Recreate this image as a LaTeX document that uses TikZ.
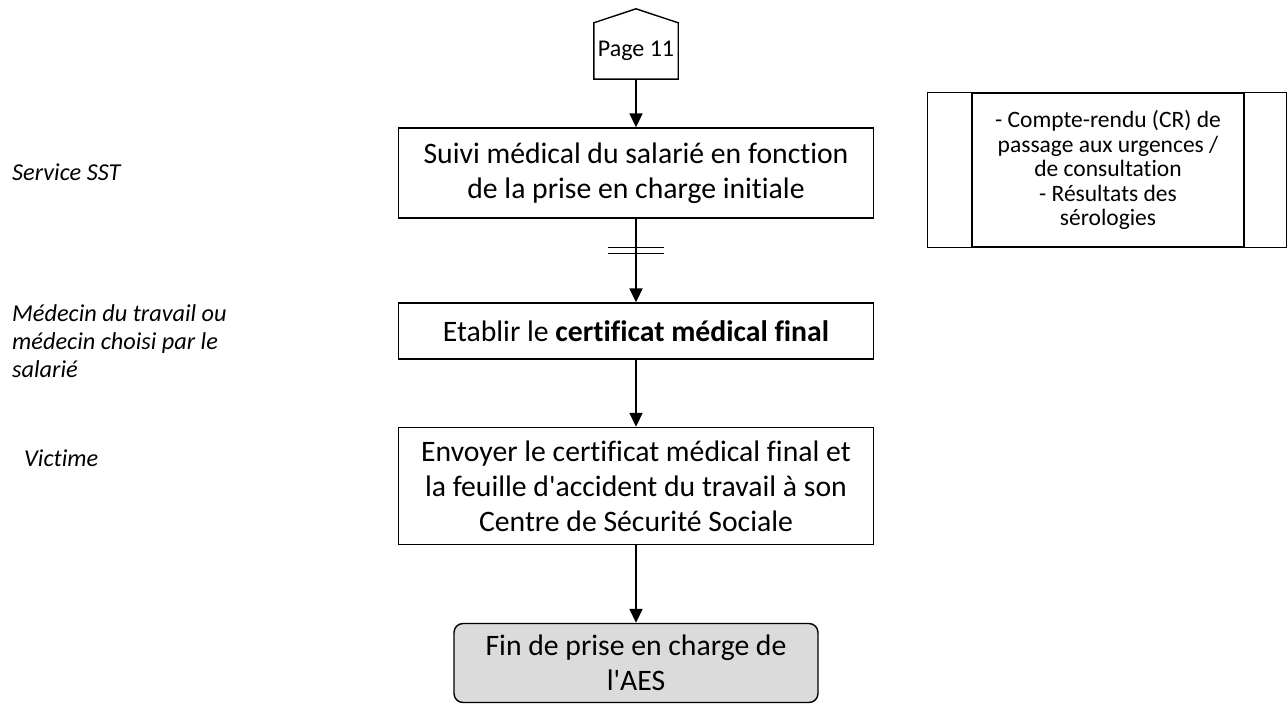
\documentclass[tikz,border=0pt]{standalone}
\usepackage{fontspec}
\setmainfont{Carlito}[Ligatures={TeXOff,NoCommon}]
\usetikzlibrary{arrows.meta, calc}

\begin{document}
\begin{tikzpicture}[x=1pt, y=-1pt, >={Triangle[length=14pt, width=13pt]},
  box/.style={draw, line width=1.4pt, align=center, minimum width=475pt, font=\fontsize{29.7}{35}\selectfont},
  role/.style={align=left, anchor=west, inner sep=0pt, font=\fontsize{24.3}{28}\selectfont\itshape},
  flow/.style={->, line width=1.8pt}]
  \useasboundingbox (0,0) rectangle (1288,706);

  % renvoi de page
  \node[minimum width=84pt, minimum height=56pt, inner sep=0pt, font=\fontsize{24}{28}\selectfont] (page) at (636,51) {Page 11};
  \draw[line width=1.4pt] (page.south west) -- (page.north west) -- ($(page.north)+(0,-14)$) -- (page.north east) -- (page.south east) -- cycle;

  % etapes
  \node[box, minimum height=90pt] (suivi) at (636,173) {Suivi médical du salarié en fonction\\de la prise en charge initiale};
  \node[box, minimum height=56pt] (certif) at (636,331) {Etablir le \textbf{certificat médical final}};
  \node[box, minimum height=117pt] (envoi) at (636,486) {Envoyer le certificat médical final et\\la feuille d'accident du travail à son\\Centre de Sécurité Sociale};
  \node[box, minimum width=364pt, minimum height=79pt, rounded corners=9pt, fill=gray!28] (fin) at (636,663) {Fin de prise en charge de\\l'AES};

  % acteurs
  \node[role] (sst) at (12,172) {Service SST};
  \node[role] (medecin) at (12,341) {Médecin du travail ou\\médecin choisi par le\\salarié};
  \node[role] (victime) at (24,458) {Victime};

  % documents
  \node[draw, line width=1.4pt, minimum width=272pt, minimum height=154pt, align=center, font=\fontsize{23.5}{24.5}\selectfont] (docs) at (1108,170) {- Compte-rendu (CR) de\\passage aux urgences /\\de consultation\\- Résultats des\\sérologies};
  \draw[line width=1.4pt] ($(docs.north west)+(-44,0)$) rectangle ($(docs.south east)+(42,0)$);

  % fleches
  \draw[flow] (page) -- (suivi);
  \draw[flow] (suivi) -- (certif);
  \draw[flow] (certif) -- (envoi);
  \draw[flow] (envoi) -- (fin);
  \coordinate (cut) at ($(suivi.south)!0.38!(certif.north)$);
  \draw[line width=1.4pt] ($(cut)+(-28,-3)$) -- ($(cut)+(28,-3)$) ($(cut)+(-28,3)$) -- ($(cut)+(28,3)$);
\end{tikzpicture}
\end{document}
